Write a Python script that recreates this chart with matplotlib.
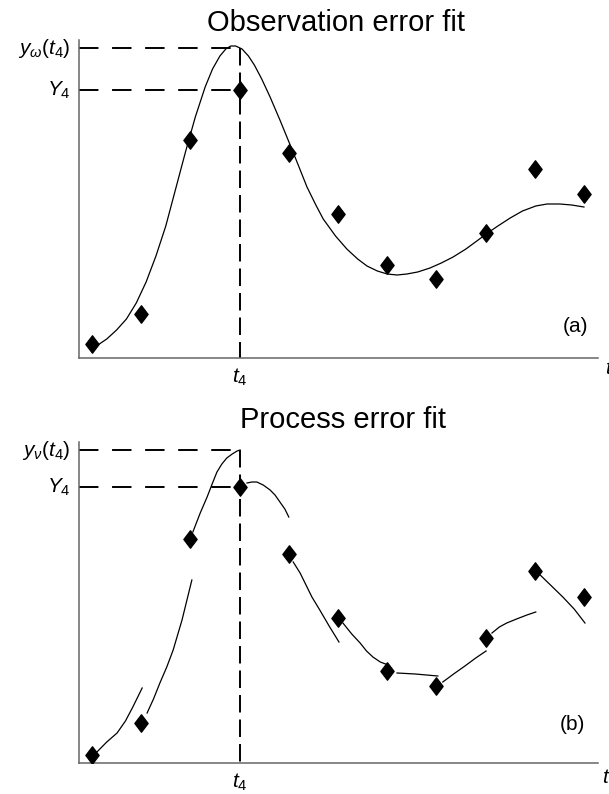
import numpy as np
import matplotlib.pyplot as plt
from matplotlib.path import Path

plt.rcParams['font.family'] = 'Liberation Sans'
plt.rcParams['mathtext.fontset'] = 'custom'
plt.rcParams['mathtext.rm'] = 'Liberation Sans'
plt.rcParams['mathtext.it'] = 'Liberation Sans:italic'

# sampling times and observations
t_obs = np.arange(1, 12)
obs_a = [1.4, 4.4, 21.8, 26.8, 20.5, 14.4, 9.3, 7.9, 12.5, 18.9, 16.4]
obs_b = [0.8, 4.0, 22.4, 27.6, 20.9, 14.5, 9.2, 7.7, 12.5, 19.2, 16.6]

# observation error model: one continuous trajectory
fit_t = [1.12, 1.30, 1.50, 1.70, 1.90, 2.10, 2.30, 2.50, 2.70, 2.90, 3.10,
         3.30, 3.45, 3.60, 3.72, 3.82, 3.92, 4.05, 4.18, 4.30, 4.45, 4.62,
         4.82, 5.02, 5.20, 5.37, 5.55, 5.70, 5.95, 6.18, 6.40, 6.59, 6.80,
         7.00, 7.20, 7.40, 7.62, 7.87, 8.10, 8.34, 8.60, 8.85, 9.01, 9.25,
         9.50, 9.75, 10.02, 10.25, 10.51, 10.75, 11.00]
fit_v = [1.3, 1.9, 2.8, 3.9, 5.5, 7.6, 10.2, 13.2, 16.9, 20.6, 24.1,
         27.1, 28.9, 30.2, 30.9, 31.2, 31.2, 30.9, 30.2, 29.3, 27.9, 26.1,
         23.8, 21.4, 19.2, 17.1, 15.3, 13.9, 12.2, 10.9, 9.9, 9.2, 8.7,
         8.4, 8.3, 8.4, 8.6, 9.0, 9.5, 10.1, 10.9, 11.8, 12.4, 13.2,
         14.0, 14.7, 15.2, 15.4, 15.4, 15.3, 15.1]

# process error model: one-step predictions restarted at each observation
seg_t = [[1.10, 1.30, 1.51, 1.68, 1.83, 2.02],
         [2.12, 2.25, 2.38, 2.52, 2.65, 2.83, 2.93, 3.03],
         [3.05, 3.20, 3.34, 3.45, 3.54, 3.64, 3.74, 3.85, 3.95, 4.01],
         [4.15, 4.25, 4.35, 4.48, 4.62, 4.72, 4.82, 4.92, 5.00],
         [5.09, 5.23, 5.35, 5.47, 5.63, 5.82, 6.02],
         [6.10, 6.28, 6.45, 6.58, 6.71, 6.86, 7.02],
         [7.20, 7.57, 8.03],
         [8.13, 8.35, 8.58, 8.80, 9.01],
         [9.13, 9.28, 9.43, 9.63, 9.84, 10.02],
         [10.11, 10.34, 10.57, 10.80, 11.02]]
seg_v = [[1.1, 2.1, 3.0, 4.2, 5.6, 7.5],
         [5.0, 6.4, 8.0, 9.6, 11.3, 14.3, 16.3, 18.3],
         [23.1, 25.0, 26.6, 28.0, 29.1, 29.9, 30.5, 30.9, 31.2, 31.3],
         [28.0, 28.1, 28.1, 27.8, 27.3, 26.8, 26.1, 25.4, 24.6],
         [20.1, 19.0, 17.8, 16.6, 15.3, 13.7, 12.1],
         [14.0, 12.9, 12.0, 11.2, 10.6, 10.1, 9.8],
         [9.0, 8.9, 8.7],
         [8.1, 8.9, 9.7, 10.5, 11.2],
         [13.0, 13.6, 14.0, 14.4, 14.8, 15.1],
         [18.8, 17.7, 16.6, 15.4, 14.0]]

t4 = 4
y_omega = 31.0
y_nu = 31.3

W, H = 609, 794
diamond = Path([(0, 1), (0.76, 0), (0, -1), (-0.76, 0), (0, 1)], closed=True)
lab = dict(fontsize=15)


def frame(top, bottom, ymax):
    ax = fig.add_axes([79 / W, 1 - bottom / H, (598 - 79) / W, (bottom - top) / H])
    ax.set_xlim(0.736, 11.285)
    ax.set_ylim(0, ymax)
    for s in ['top', 'right']:
        ax.spines[s].set_visible(False)
    for s in ['left', 'bottom']:
        ax.spines[s].set_color('#666666')
        ax.spines[s].set_linewidth(1.1)
    ax.set_xticks([])
    ax.set_yticks([])
    ax.patch.set_alpha(0)
    return ax


def guides(ax, ymodel, yobs, sym):
    x0 = ax.get_xlim()[0]
    ax.plot([x0, t4], [ymodel, ymodel], color='k', lw=1.4,
            dashes=(10, 7), zorder=1)
    ax.plot([x0, t4], [yobs, yobs], color='k', lw=1.4,
            dashes=(10, 7), zorder=1)
    ax.plot([t4, t4], [ymodel, 0], color='k', lw=1.4,
            dashes=(9, 3.6), zorder=1)
    tr = ax.get_yaxis_transform()
    ax.annotate(r'$y_{\%s}(t_4)$' % sym, (0, ymodel), xycoords=tr,
                xytext=(-6, 0), textcoords='offset points',
                ha='right', va='center', **lab)
    ax.annotate(r'$Y_4$', (0, yobs), xycoords=tr,
                xytext=(-6, 0), textcoords='offset points',
                ha='right', va='center', **lab)
    ax.annotate(r'$t_4$', (t4, 0), xycoords=ax.get_xaxis_transform(),
                xytext=(0, -6), textcoords='offset points',
                ha='center', va='top', **lab)


fig = plt.figure(figsize=(W / 100, H / 100), dpi=100)

# (a) observation error fit
ax1 = frame(40, 358, 31.8)
ax1.plot(fit_t, fit_v, color='k', lw=0.9, zorder=2)
ax1.plot(t_obs, obs_a, ls='none', marker=diamond, ms=12.5, color='k', zorder=3)
guides(ax1, y_omega, obs_a[3], 'omega')
fig.text(336 / W, 1 - 31 / H, 'Observation error fit', fontsize=21,
         ha='center', va='baseline')
fig.text(575 / W, 1 - 326 / H, '(a)', fontsize=15, ha='center', va='center')
fig.text(605 / W, 1 - 374 / H, '$t$', fontsize=15, ha='left', va='baseline')

# (b) process error fit
ax2 = frame(442, 763, 32.1)
for st, sv in zip(seg_t, seg_v):
    ax2.plot(st, sv, color='k', lw=0.9, zorder=2)
ax2.plot(t_obs, obs_b, ls='none', marker=diamond, ms=12.5, color='k', zorder=3)
guides(ax2, y_nu, obs_b[3], 'nu')
fig.text(343 / W, 1 - 428 / H, 'Process error fit', fontsize=21,
         ha='center', va='baseline')
fig.text(572 / W, 1 - 725 / H, '(b)', fontsize=15, ha='center', va='center')
fig.text(602 / W, 1 - 783 / H, '$t$', fontsize=15, ha='left', va='baseline')

fig.savefig('out.png', dpi=100)
